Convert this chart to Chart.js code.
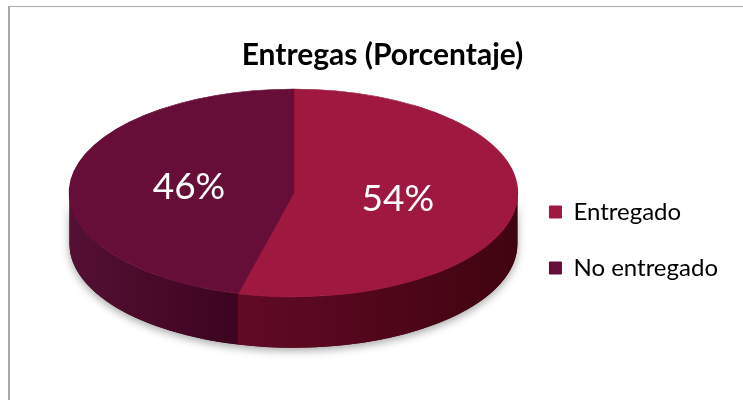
<!DOCTYPE html>
<html>
<head>
<meta charset="utf-8">
<script src="https://cdn.jsdelivr.net/npm/chart.js@4.4.0/dist/chart.umd.min.js"></script>
<style>
  html, body { margin: 0; padding: 0; background: #fff; }
  #wrap { position: relative; width: 743px; height: 400px; overflow: hidden; }
  #frame { position: absolute; left: 8px; top: 6px; width: 800px; height: 500px; border: 1px solid #a9a9a9; border-left-width: 2px; box-sizing: border-box; }
  canvas { position: absolute; left: 0; top: 0; }
</style>
</head>
<body>
<div id="wrap">
  <div id="frame"></div>
  <canvas id="chart-pie" width="743" height="400"></canvas>
</div>
<script>
// datos del grafico
const labels = ['Entregado', 'No entregado'];
const values = [54, 46];
const topColors = ['#9e1840', '#660e38'];
// lado del pastel: [color izquierdo, color derecho]
const sideColors = [['#620a26', '#40040f'], ['#551033', '#3c0420']];

const PIE_WIDTH = 448;   // ancho de la elipse
const TILT = 0.464;      // aplastamiento vertical de la cara superior
const DEPTH = 51;        // grosor del pastel
const LABEL_POS = 0.47;  // distancia de la etiqueta al centro (fraccion del radio)

function pieGeometry(chart) {
  const area = chart.chartArea;
  const rx = PIE_WIDTH / 2;
  const ry = rx * TILT;
  return { cx: area.right - rx, cy: area.top + ry, rx: rx, ry: ry };
}

const pie3d = {
  id: 'pie3d',
  beforeDatasetsDraw(chart) {
    const ctx = chart.ctx;
    const g = pieGeometry(chart);
    const arcs = chart.getDatasetMeta(0).data;

    // sombra suave bajo el pastel
    ctx.save();
    ctx.shadowColor = 'rgba(0,0,0,0.35)';
    ctx.shadowBlur = 8;
    ctx.shadowOffsetY = 3;
    ctx.fillStyle = '#40040f';
    ctx.beginPath();
    ctx.ellipse(g.cx, g.cy, g.rx, g.ry, 0, 0, Math.PI);
    ctx.ellipse(g.cx, g.cy + DEPTH, g.rx, g.ry, 0, Math.PI, 0, true);
    ctx.closePath();
    ctx.fill();
    ctx.restore();

    // lados: solo la mitad delantera (0..PI) se ve
    arcs.forEach((arc, i) => {
      const a0 = Math.max(arc.startAngle, 0);
      const a1 = Math.min(arc.endAngle, Math.PI);
      if (a1 <= a0) return;
      const xr = g.cx + g.rx * Math.cos(a0);
      const xl = g.cx + g.rx * Math.cos(a1);
      const grad = ctx.createLinearGradient(xl, 0, xr, 0);
      grad.addColorStop(0, sideColors[i][0]);
      grad.addColorStop(1, sideColors[i][1]);
      ctx.fillStyle = grad;
      ctx.beginPath();
      ctx.ellipse(g.cx, g.cy, g.rx, g.ry, 0, a0, a1);
      ctx.ellipse(g.cx, g.cy + DEPTH, g.rx, g.ry, 0, a1, a0, true);
      ctx.closePath();
      ctx.fill();
    });

    // aplastar la cara superior que dibuja Chart.js
    const arc0 = arcs[0];
    const r = arc0.outerRadius;
    ctx.save();
    ctx.translate(g.cx, g.cy);
    ctx.scale(g.rx / r, g.ry / r);
    ctx.translate(-arc0.x, -arc0.y);
  },
  afterDatasetsDraw(chart) {
    const ctx = chart.ctx;
    ctx.restore();
    const g = pieGeometry(chart);
    const arcs = chart.getDatasetMeta(0).data;
    ctx.save();
    ctx.font = '37px Lato';
    ctx.fillStyle = '#ffffff';
    ctx.textAlign = 'center';
    ctx.textBaseline = 'middle';
    arcs.forEach((arc, i) => {
      const mid = (arc.startAngle + arc.endAngle) / 2;
      const x = g.cx + g.rx * LABEL_POS * Math.cos(mid);
      const y = g.cy + g.ry * LABEL_POS * Math.sin(mid);
      ctx.fillText(values[i] + '%', x, y);
    });
    ctx.restore();
  }
};

const ctxPie = document.getElementById('chart-pie');

new Chart(ctxPie, {
  type: 'pie',
  data: {
    labels: labels,
    datasets: [{
      data: values,
      backgroundColor: topColors,
      borderColor: topColors,
      borderWidth: 1
    }]
  },
  options: {
    responsive: false,
    animation: false,
    events: [],
    layout: {
      padding: { left: 37, right: 15, top: 6, bottom: 9 }
    },
    plugins: {
      title: {
        display: true,
        text: 'Entregas (Porcentaje)',
        color: '#000',
        font: { family: 'Lato', size: 30, weight: 'bold' },
        padding: { top: 31, bottom: 16 }
      },
      legend: {
        position: 'right',
        fullSize: false,
        labels: {
          color: '#000',
          boxWidth: 12,
          boxHeight: 12,
          padding: 32,
          font: { family: 'Lato', size: 24 }
        }
      },
      tooltip: { enabled: false }
    }
  },
  plugins: [pie3d]
});
</script>
</body>
</html>
